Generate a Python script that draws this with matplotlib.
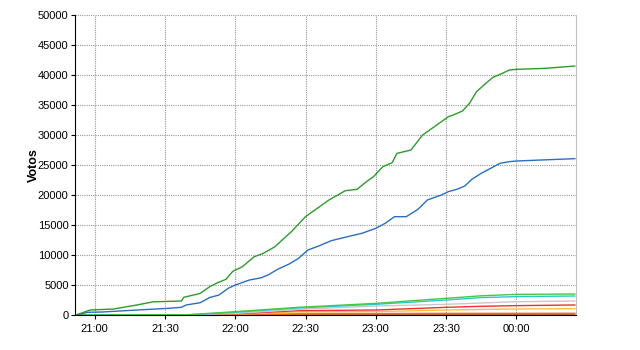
import datetime as dt
import matplotlib
matplotlib.use("Agg")
import matplotlib.pyplot as plt
import matplotlib.dates as mdates

plt.rcParams['font.family'] = ['Liberation Sans', 'DejaVu Sans']

# vote counts (clock time -> votes)
green_t = ["20:52", "20:58", "21:08", "21:18", "21:25", "21:37", "21:38", "21:45", "21:49",
           "21:52", "21:56", "21:59", "22:03", "22:08", "22:12", "22:17", "22:20", "22:24",
           "22:30", "22:36", "22:40", "22:47", "22:52", "22:56", "22:59", "23:03", "23:07",
           "23:09", "23:15", "23:20", "23:24", "23:28", "23:31", "23:33", "23:37", "23:40",
           "23:43", "23:47", "23:50", "23:54", "23:57", "00:00", "00:12", "00:25"]
green_v = [0, 830, 1000, 1670, 2200, 2330, 2950, 3600, 4700,
           5300, 5950, 7300, 8050, 9700, 10280, 11400, 12500, 13900,
           16400, 18050, 19170, 20720, 20950, 22220, 23050, 24720, 25390,
           26940, 27500, 30000, 31110, 32220, 33060, 33330, 34000, 35280,
           37220, 38610, 39610, 40280, 40830, 40950, 41110, 41500]

blue_t = ["20:52", "20:57", "21:03", "21:18", "21:31", "21:37", "21:39", "21:45", "21:49",
          "21:53", "21:57", "22:00", "22:06", "22:11", "22:14", "22:18", "22:23", "22:27",
          "22:31", "22:36", "22:41", "22:48", "22:54", "23:00", "23:04", "23:08", "23:13",
          "23:18", "23:22", "23:28", "23:31", "23:35", "23:38", "23:41", "23:45", "23:49",
          "23:53", "23:57", "00:00", "00:25"]
blue_v = [0, 450, 500, 830, 1100, 1280, 1670, 2050, 2900,
          3330, 4450, 5000, 5830, 6200, 6670, 7600, 8500, 9440,
          10830, 11560, 12390, 13060, 13610, 14440, 15280, 16390, 16390,
          17610, 19170, 20000, 20560, 21000, 21500, 22610, 23610, 24440,
          25280, 25560, 25670, 26060]

small_t = ["20:52", "21:40", "22:00", "22:27", "23:00", "23:30", "23:45", "00:00", "00:25"]
lime_v = [0, 50, 560, 1280, 1940, 2780, 3200, 3440, 3500]
cyan_v = [0, 40, 450, 1170, 1780, 2500, 2900, 3060, 3170]
gray_v = [0, 20, 250, 940, 1500, 1780, 2000, 2220, 2330]
red_v = [0, 10, 200, 720, 830, 1280, 1450, 1560, 1670]
yellow_v = [0, 10, 150, 500, 560, 830, 920, 1000, 1060]
orange_v = [0, 5, 80, 200, 250, 280, 280, 280, 290]
brown_v = [0, 20, 40, 60, 70, 80, 80, 90, 90]


def to_dt(labels):
    out = []
    for s in labels:
        h, m = map(int, s.split(":"))
        day = 2 if h < 12 else 1
        out.append(dt.datetime(2000, 1, day, h, m))
    return out


fig = plt.figure(figsize=(6.4, 3.5), dpi=100)
ax = fig.add_axes([0.117, 0.1, 0.783, 0.857])

st = to_dt(small_t)
ax.plot(st, brown_v, color='#cc6622', lw=1)
ax.plot(st, orange_v, color='#e8702a', lw=1)
ax.plot(st, yellow_v, color='#ffc040', lw=1)
ax.plot(st, red_v, color='#f03030', lw=1)
ax.plot(st, gray_v, color='#c8c8c8', lw=1)
ax.plot(st, cyan_v, color='#2cc8d0', lw=1)
ax.plot(st, lime_v, color='#44c844', lw=1)
ax.plot(to_dt(blue_t), blue_v, color='#2a6ec0', lw=1)
ax.plot(to_dt(green_t), green_v, color='#2e9a2e', lw=1)

ax.set_xlim(dt.datetime(2000, 1, 1, 20, 51, 30), dt.datetime(2000, 1, 2, 0, 25, 30))
ax.set_ylim(0, 50000)
ax.set_yticks(range(0, 50001, 5000))
ax.xaxis.set_major_locator(mdates.MinuteLocator(byminute=[0, 30]))
ax.xaxis.set_major_formatter(mdates.DateFormatter('%H:%M'))
ax.tick_params(labelsize=8, length=3, colors='black')
ax.tick_params(axis='y', pad=1.5)

ax.grid(True, color='#999999', linestyle=(0, (1, 1)), linewidth=0.8)
ax.set_axisbelow(True)
ax.spines['top'].set_visible(False)
ax.spines['right'].set_color('#c0c0c0')
ax.spines['left'].set_color('black')
ax.spines['bottom'].set_color('black')
ax.set_ylabel('Votos', fontsize=9, fontweight='bold')
ax.yaxis.set_label_coords(-0.07, 0.5)

fig.savefig('out.png', dpi=100)
